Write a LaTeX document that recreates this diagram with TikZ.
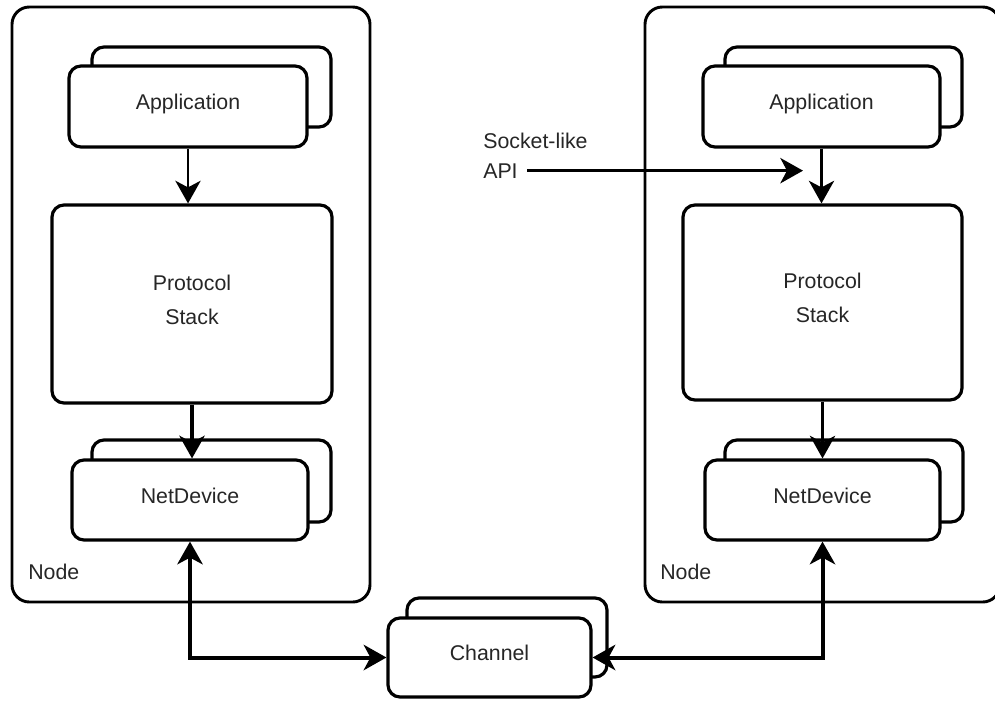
\documentclass[tikz,border=0pt]{standalone}
\usepackage{fontspec}
\setmainfont{Liberation Sans}
\usetikzlibrary{arrows.meta}
\begin{document}
\begin{tikzpicture}[x=0.75pt,y=-0.75pt,
  container/.style={draw, line width=2.2pt, rounded corners=13pt, inner sep=0pt},
  block/.style={draw, fill=white, line width=2.4pt, rounded corners=9pt, inner sep=0pt,
    font=\fontsize{16}{25.5}\selectfont, text=black!85, align=center, text depth=7pt},
  tag/.style={inner sep=0pt, font=\fontsize{16}{19}\selectfont, text=black!85},
  tip/.tip={Stealth[length=17pt,width=19pt,inset=5pt]},
  link/.style={line width=1.8pt, -tip},
  bus/.style={line width=3pt, tip-tip},
  apiarrow/.style={line width=2.2pt, -tip},
]
\path[use as bounding box] (0,0) rectangle (995,700);
\clip (0,0) rectangle (995,700);

% left node
\node[container, minimum width=268.5pt, minimum height=446.25pt] (nodeboxL) at (191,304.5) {};
\node[block, minimum width=179.25pt, minimum height=60pt] (appLback) at (211.5,87) {};
\node[block, minimum width=178.5pt, minimum height=60.75pt] (appL) at (188,106.5) {Application};
\node[block, minimum width=210pt, minimum height=148.5pt] (stackL) at (192,304) {Protocol\\Stack};
\node[block, minimum width=179.25pt, minimum height=61.5pt] (netLback) at (211.5,481) {};
\node[block, minimum width=177pt, minimum height=60pt] (netL) at (190,500) {NetDevice};
\node[tag, anchor=west] (nodeL) at (28,572) {Node};

% right node (its right side runs past the page edge)
\node[container, minimum width=266.25pt, minimum height=446.25pt] (nodeboxR) at (822.5,304.5) {};
\node[block, minimum width=177.75pt, minimum height=60pt] (appRback) at (843.5,87) {};
\node[block, minimum width=177.75pt, minimum height=60.75pt] (appR) at (821.5,106.5) {Application};
\node[block, minimum width=209.25pt, minimum height=146.25pt] (stackR) at (822.5,302.5) {Protocol\\Stack};
\node[block, minimum width=178.5pt, minimum height=61.5pt] (netRback) at (844,481) {};
\node[block, minimum width=176.25pt, minimum height=60pt] (netR) at (822.5,500) {NetDevice};
\node[tag, anchor=west] (nodeR) at (660,572) {Node};

% channel
\node[block, minimum width=150pt, minimum height=59.25pt] (chanback) at (507,637.5) {};
\node[block, minimum width=152.25pt, minimum height=59.25pt] (chan) at (489.5,657.5) {Channel};

% socket API label
\node[tag, anchor=base west] (sock) at (483,148) {Socket-like};
\node[tag, anchor=base west] (api) at (483,178) {API};
\coordinate (apitip) at (803,167);

% connectors
\draw[link] (appL.south) -- (appL.south |- stackL.north);
\draw[link, line width=2.6pt] (stackL.south) -- (stackL.south |- netL.north);
\draw[link] (appR.south) -- (appR.south |- stackR.north);
\draw[link] (stackR.south) -- (stackR.south |- netR.north);
\draw[apiarrow] ([xshift=7pt]api.east) -- (api.east -| apitip);
\draw[bus] (netL.south) |- (chan.west);
\draw[bus] (netR.south) |- (chan.east);
\end{tikzpicture}
\end{document}
